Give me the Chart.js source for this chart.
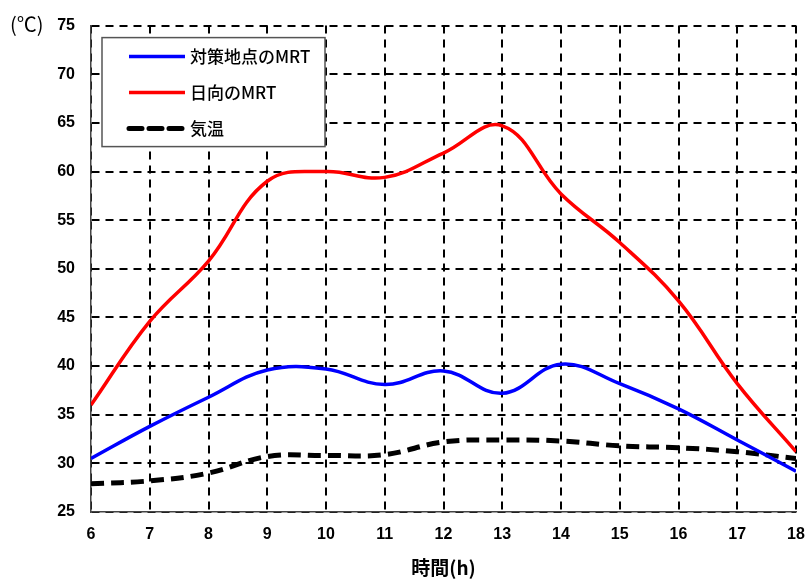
<!DOCTYPE html>
<html>
<head>
<meta charset="utf-8">
<script src="https://cdn.jsdelivr.net/npm/chart.js@4/dist/chart.umd.min.js"></script>
<style>
  html, body { margin: 0; padding: 0; background: #fff; }
  #wrap { width: 809px; height: 579px; }
</style>
</head>
<body>
<div id="wrap"><canvas id="c" width="809" height="579"></canvas></div>
<script>
const hours = [6, 7, 8, 9, 10, 11, 12, 13, 14, 15, 16, 17, 18];
const mrtShade = [30.5, 33.8, 36.8, 39.6, 39.7, 38.1, 39.5, 37.2, 40.2, 38.2, 35.6, 32.4, 29.2];
const mrtSun = [36.0, 44.6, 50.8, 59.0, 60.0, 59.4, 61.9, 64.7, 57.7, 52.7, 46.7, 38.2, 31.2];
const airTemp = [27.9, 28.2, 29.0, 30.7, 30.8, 30.9, 32.2, 32.4, 32.3, 31.8, 31.6, 31.2, 30.5];
const yTicks = [25, 30, 35, 40, 45, 50, 55, 60, 65, 70, 75];

const latin = "'Liberation Sans', Arial, sans-serif";
const jp = "'Noto Sans CJK JP', 'Liberation Sans', sans-serif";

const toXY = (vals) => hours.map((h, i) => ({ x: h, y: vals[i] }));

// legend box drawn inside the plot, plus the unit label
const extras = {
  id: 'extras',
  afterDraw(chart) {
    const ctx = chart.ctx;
    const area = chart.chartArea;
    ctx.save();
    // unit label
    ctx.fillStyle = '#000';
    ctx.font = '20px ' + jp;
    ctx.textAlign = 'left';
    ctx.textBaseline = 'middle';
    ctx.fillText('(℃)', 10, area.top - 1);

    // legend
    const bx = area.left + 11, by = area.top + 12, bw = 223, bh = 109;
    ctx.fillStyle = '#fff';
    ctx.fillRect(bx, by, bw, bh);
    ctx.strokeStyle = '#555';
    ctx.lineWidth = 1.5;
    ctx.strokeRect(bx, by, bw, bh);
    chart.data.datasets.forEach((ds, i) => {
      const y = by + 19 + i * 36;
      ctx.beginPath();
      ctx.strokeStyle = ds.borderColor;
      ctx.lineWidth = ds.borderWidth;
      ctx.setLineDash(ds.borderDash || []);
      ctx.lineCap = ds.borderDash ? 'round' : 'butt';
      ctx.moveTo(bx + 27, y);
      ctx.lineTo(bx + 83, y);
      ctx.stroke();
      ctx.setLineDash([]);
      ctx.fillStyle = '#000';
      ctx.font = '500 17px ' + jp;
      ctx.textBaseline = 'middle';
      ctx.fillText(ds.label, bx + 88, y);
    });
    ctx.restore();
  }
};

new Chart(document.getElementById('c'), {
  type: 'line',
  data: {
    datasets: [
      {
        label: '対策地点のMRT',
        data: toXY(mrtShade),
        borderColor: '#0000ff',
        borderWidth: 3.5,
        pointRadius: 0,
        tension: 0.4,
        fill: false
      },
      {
        label: '日向のMRT',
        data: toXY(mrtSun),
        borderColor: '#ff0000',
        borderWidth: 3.5,
        pointRadius: 0,
        tension: 0.4,
        fill: false
      },
      {
        label: '気温',
        data: toXY(airTemp),
        borderColor: '#000000',
        borderWidth: 5,
        borderDash: [13, 7],
        pointRadius: 0,
        tension: 0.4,
        fill: false
      }
    ]
  },
  options: {
    responsive: false,
    animation: false,
    layout: { padding: { top: 24, right: 0, left: 0, bottom: 0 } },
    plugins: {
      legend: { display: false },
      tooltip: { enabled: false }
    },
    scales: {
      x: {
        type: 'linear',
        min: 6,
        max: 18,
        ticks: {
          stepSize: 1,
          color: '#000',
          font: { family: latin, size: 16, weight: 'bold' },
          padding: 13
        },
        grid: {
          color: '#000',
          lineWidth: 2,
          tickLength: 0,
          drawTicks: false
        },
        border: { display: true, color: '#444', width: 1.5, dash: [8, 6] },
        title: {
          display: true,
          text: '時間(h)',
          color: '#000',
          font: { family: jp, size: 19, weight: 'bold' },
          padding: { top: 4, bottom: 0 }
        },
        afterFit(scale) {
          scale.height = 67;
          scale.paddingRight = 13;
        }
      },
      y: {
        min: 25,
        max: 75,
        afterBuildTicks(scale) { scale.ticks = yTicks.map(v => ({ value: v })); },
        ticks: {
          color: '#000',
          font: { family: latin, size: 16, weight: 'bold' },
          padding: 16
        },
        grid: {
          color: '#000',
          lineWidth: 2,
          drawTicks: false
        },
        border: { display: true, color: '#444', width: 1.5, dash: [8, 6] },
        afterFit(scale) { scale.width = 91; }
      }
    }
  },
  plugins: [extras]
});
</script>
</body>
</html>
